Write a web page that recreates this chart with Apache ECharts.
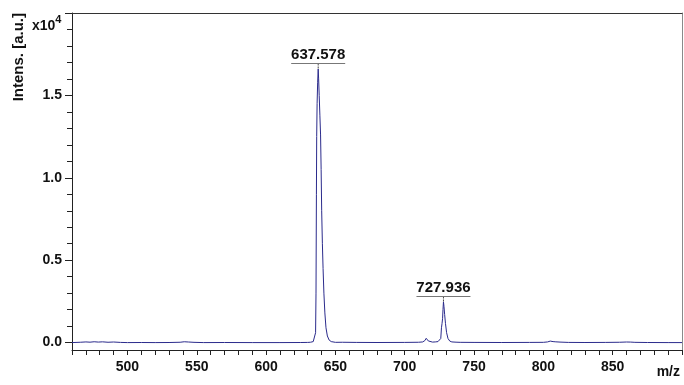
<!DOCTYPE html>
<html>
<head>
<meta charset="utf-8">
<script src="https://cdn.jsdelivr.net/npm/echarts@6/dist/echarts.min.js"></script>
<style>
  html, body { margin: 0; padding: 0; background: #fff; }
  #chart { width: 684px; height: 385px; }
</style>
</head>
<body>
<div id="chart"></div>
<script>
// Mass spectrum: m/z positions and intensities (a.u.)
const mzValues = [
  460, 466, 470, 473, 476, 479, 482, 486, 490, 495, 500, 510, 520, 530, 538, 541, 544, 548, 555, 570,
  590, 610, 625, 630, 632, 634, 635, 635.7, 636.0, 636.3, 636.5, 636.8, 637.2, 637.578, 637.9, 638.3,
  638.8, 639.3, 639.7, 640.1, 640.6, 641.1, 641.7, 642.4, 643.2, 644.2, 645.5, 647, 650, 655, 665, 680,
  700, 710, 713, 714.5, 715.5, 716.2, 717, 718, 720, 722, 724, 725.3, 726.0, 726.5, 726.9, 727.3, 727.6,
  727.936, 728.3, 728.8, 729.4, 730.2, 731.2, 732.5, 734, 737, 740, 750, 770, 790, 800, 803, 805, 807,
  809, 812, 818, 830, 845, 855, 860, 863, 866, 875, 890, 900
];
const intensityValues = [
  0, 20, 40, 25, 50, 30, 45, 20, 35, 10, 0, 5, 0, 5, 20, 50, 35, 15, 0, 5,
  0, 0, 5, 10, 20, 60, 180, 600, 3000, 9000, 12500, 14500, 15800, 16600, 16000, 15000,
  13800, 12600, 10500, 8000, 6000, 4500, 3000, 1800, 900, 400, 150, 60, 15, 20, 10, 5,
  10, 20, 40, 120, 260, 200, 100, 50, 30, 40, 60, 120, 250, 900, 1150, 1450, 2000,
  2470, 2200, 1700, 1150, 600, 250, 90, 40, 25, 15, 10, 5, 10, 15, 40, 90, 60,
  45, 30, 10, 5, 10, 20, 35, 30, 15, 5, 0, 0
];

// Labelled peaks
const peakMz = [637.578, 727.936];
const peakIntensity = [16600, 2470];

// Axis ticks and labels
const xTickValues = [];
for (let v = 460; v <= 900; v += 10) xTickValues.push(v);
const xLabelValues = [500, 550, 600, 650, 700, 750, 800, 850];
const yMinorTickValues = [];
for (let v = 0; v <= 20000; v += 1000) yMinorTickValues.push(v);
const yMajorTickValues = [0, 5000, 10000, 15000, 20000];
const yLabelValues = [0, 5000, 10000, 15000];

const spectrum = mzValues.map((m, i) => [m, intensityValues[i]]);
const peaks = peakMz.map((m, i) => [m, peakIntensity[i]]);

const FONT = '"Liberation Sans", Arial, sans-serif';
const chart = echarts.init(document.getElementById('chart'), null, { renderer: 'canvas' });

const X_MIN = 460, X_MAX = 900, Y_MIN = -450, Y_MAX = 20000;

chart.setOption({
  animation: false,
  backgroundColor: '#fff',
  grid: { left: 72, top: 13, right: 2, bottom: 35, containLabel: false },
  xAxis: [
    {
      type: 'value', min: X_MIN, max: X_MAX, position: 'bottom',
      axisLine: { show: true, onZero: false, lineStyle: { color: '#222', width: 1 } },
      axisTick: { show: true, customValues: xTickValues, length: 5, lineStyle: { color: '#222' } },
      axisLabel: {
        show: true, customValues: xLabelValues, margin: 10,
        color: '#111', fontFamily: FONT, fontWeight: 'bold', fontSize: 14
      },
      splitLine: { show: false }
    },
    {
      type: 'value', min: X_MIN, max: X_MAX, position: 'top',
      axisLine: { show: true, onZero: false, lineStyle: { color: '#333', width: 1 } },
      axisTick: { show: false }, axisLabel: { show: false }, splitLine: { show: false }
    }
  ],
  yAxis: [
    {
      type: 'value', min: Y_MIN, max: Y_MAX, position: 'left',
      axisLine: { show: true, onZero: false, lineStyle: { color: '#222', width: 1 } },
      axisTick: { show: true, customValues: yMinorTickValues, length: 5, lineStyle: { color: '#222' } },
      axisLabel: {
        show: true, customValues: yLabelValues, margin: 10,
        color: '#111', fontFamily: FONT, fontWeight: 'bold', fontSize: 14,
        formatter: v => (v / 10000).toFixed(1)
      },
      splitLine: { show: false }
    },
    {
      type: 'value', min: Y_MIN, max: Y_MAX, position: 'left',
      axisLine: { show: false },
      axisTick: { show: true, customValues: yMajorTickValues, length: 7, lineStyle: { color: '#222' } },
      axisLabel: { show: false }, splitLine: { show: false }
    },
    {
      type: 'value', min: Y_MIN, max: Y_MAX, position: 'right',
      axisLine: { show: true, onZero: false, lineStyle: { color: '#8a8a8a', width: 1 } },
      axisTick: { show: false }, axisLabel: { show: false }, splitLine: { show: false }
    }
  ],
  series: [
    {
      type: 'line',
      data: spectrum,
      showSymbol: false,
      lineStyle: { color: '#2b2b8c', width: 1 },
      z: 2
    },
    {
      // peak annotations: value text, underline and dashed leader down to the apex
      type: 'custom',
      data: peaks,
      clip: false,
      z: 3,
      renderItem: (params, api) => {
        const mz = api.value(0);
        const p = api.coord([mz, api.value(1)]);
        const lineY = Math.round(p[1] - 6) + 0.5;
        const halfW = 27;
        return {
          type: 'group',
          children: [
            {
              type: 'line',
              shape: { x1: p[0], y1: lineY, x2: p[0], y2: p[1] },
              style: { stroke: '#444', lineWidth: 1, lineDash: [2, 1] }
            },
            {
              type: 'line',
              shape: { x1: p[0] - halfW, y1: lineY, x2: p[0] + halfW, y2: lineY },
              style: { stroke: '#777', lineWidth: 1 }
            },
            {
              type: 'text',
              style: {
                text: mz.toFixed(3),
                x: p[0], y: lineY - 1,
                align: 'center', verticalAlign: 'bottom',
                fill: '#111', font: 'bold 15px ' + FONT
              }
            }
          ]
        };
      }
    }
  ],
  graphic: [
    {
      type: 'text', left: 11, top: 13, rotation: Math.PI / 2,
      style: {
        text: 'Intens. [a.u.]', fill: '#111', font: 'bold 15px ' + FONT
      }
    },
    {
      type: 'text', left: 32, top: 14,
      style: {
        text: '{b|x10}{s|4}', fill: '#111',
        rich: {
          b: { fontFamily: FONT, fontWeight: 'bold', fontSize: 14, verticalAlign: 'bottom', lineHeight: 18 },
          s: { fontFamily: FONT, fontWeight: 'bold', fontSize: 11, verticalAlign: 'top', padding: [0, 0, 8, 0] }
        }
      }
    },
    {
      type: 'text', right: 4, top: 365,
      style: { text: 'm/z', fill: '#111', font: 'bold 14px ' + FONT }
    }
  ]
});
</script>
</body>
</html>
